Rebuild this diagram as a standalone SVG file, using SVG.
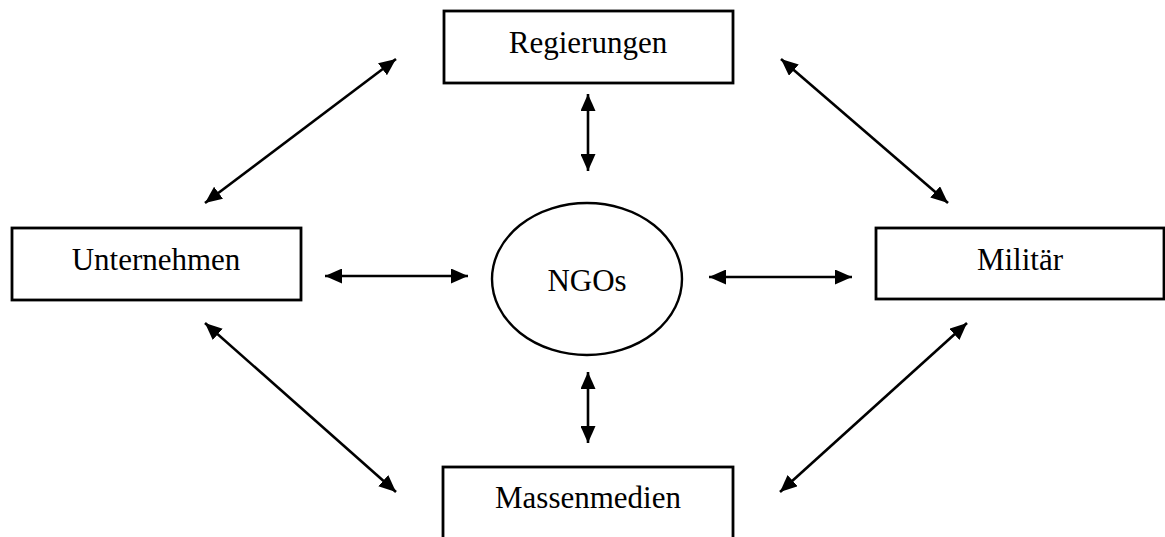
<svg xmlns="http://www.w3.org/2000/svg" width="1165" height="537" viewBox="0 0 1165 537">
<style>
.box{fill:#fff;stroke:#000;stroke-width:2.8}
.lbl{font-family:"Liberation Serif","Times New Roman",serif;font-size:31px;fill:#000;text-anchor:middle}
.con{stroke:#000;stroke-width:2.6;fill:none;marker-start:url(#ah);marker-end:url(#ah)}
</style>
<defs>
<marker id="ah" viewBox="0 0 17 15" refX="17" refY="7.5" markerWidth="17" markerHeight="15" markerUnits="userSpaceOnUse" orient="auto-start-reverse">
<path d="M0,0 L17,7.5 L0,15 z" fill="#000"/>
</marker>
</defs>
<rect width="1165" height="537" fill="#fff"/>
<g id="connectors">
<line class="con" x1="205" y1="203" x2="396" y2="59"/>
<line class="con" x1="781" y1="59" x2="948" y2="203"/>
<line class="con" x1="205" y1="323" x2="396" y2="492"/>
<line class="con" x1="967" y1="323" x2="780" y2="492"/>
<line class="con" x1="588" y1="94" x2="588" y2="171"/>
<line class="con" x1="588" y1="372" x2="588" y2="443"/>
<line class="con" x1="325" y1="276" x2="468" y2="276"/>
<line class="con" x1="709" y1="277" x2="852" y2="277"/>
</g>
<g id="regierungen">
<rect class="box" x="444" y="11" width="289" height="72"/>
<text class="lbl" x="588" y="53">Regierungen</text>
</g>
<g id="unternehmen">
<rect class="box" x="12" y="228" width="289" height="72"/>
<text class="lbl" x="156" y="270">Unternehmen</text>
</g>
<g id="ngos">
<ellipse cx="587" cy="279" rx="95" ry="76" fill="#fff" stroke="#000" stroke-width="2.4"/>
<text class="lbl" x="587" y="291">NGOs</text>
</g>
<g id="militaer">
<rect class="box" x="876" y="228" width="288" height="71"/>
<text class="lbl" x="1020" y="270">Militär</text>
</g>
<g id="massenmedien">
<rect class="box" x="443" y="467" width="290" height="80"/>
<text class="lbl" x="588" y="508">Massenmedien</text>
</g>
</svg>
